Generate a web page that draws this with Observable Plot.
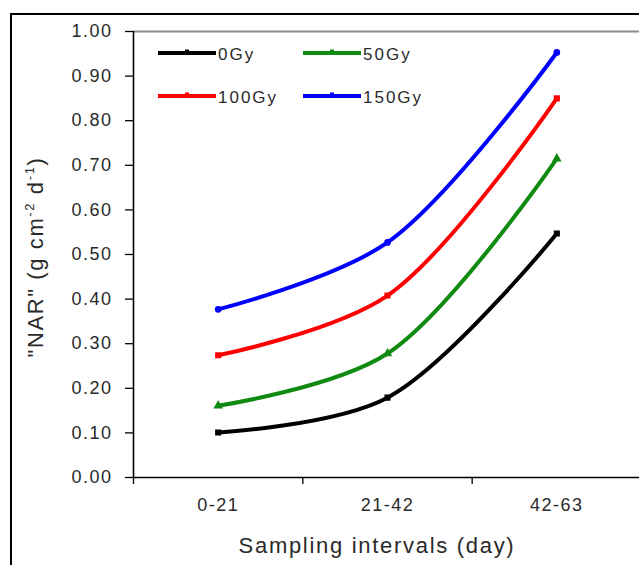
<!DOCTYPE html>
<html><head><meta charset="utf-8">
<script src="https://cdn.jsdelivr.net/npm/d3@7"></script>
<script src="https://cdn.jsdelivr.net/npm/@observablehq/plot@0.6"></script>
<style>
html,body{margin:0;padding:0;background:#fff;overflow:hidden;width:639px;height:565px}
#frame{position:absolute;left:10px;top:13px;width:700px;height:700px;border-left:2.5px solid #000;border-top:2.5px solid #000;box-sizing:border-box}
#chart{position:absolute;left:0;top:0}
</style></head><body><div id="frame"></div><div id="chart"></div>
<script>
const categories = ["0-21", "21-42", "42-63"];
const series = ["0Gy", "50Gy", "100Gy", "150Gy"];
const nar0 = [0.101, 0.179, 0.547];
const nar50 = [0.161, 0.278, 0.715];
const nar100 = [0.274, 0.408, 0.850];
const nar150 = [0.377, 0.527, 0.953];
const yTicks = [0, 0.1, 0.2, 0.3, 0.4, 0.5, 0.6, 0.7, 0.8, 0.9, 1.0];
const colors = ["#000000", "#108a10", "#ff0000", "#0000ff"];
const symbols = ["square", "triangle", "square", "circle"];
const yLabel = ["\"NAR\" (g cm", "-2", " d", "-1", ")"];
const xLabel = "Sampling intervals (day)";

const allValues = [nar0, nar50, nar100, nar150];
const data = [];
series.forEach((s, si) => categories.forEach((c, ci) => data.push({series: s, cat: c, pos: ci + 0.5, value: allValues[si][ci]})));

const W = 639, H = 565;
const pLeft = 133, pTop = 31, pBottom = 477, pRight = 641;
const font = "'Liberation Sans', Arial, sans-serif";

const plot = Plot.plot({
  width: W, height: H,
  marginLeft: pLeft, marginTop: pTop, marginBottom: H - pBottom, marginRight: 0,
  style: {fontFamily: font, background: "transparent", overflow: "hidden"},
  x: {domain: [0, categories.length], range: [pLeft, pRight]},
  y: {domain: [0, 1], range: [pBottom, pTop]},
  color: {domain: series, range: colors},
  symbol: {domain: series, range: symbols},
  marks: [
    Plot.ruleY([1], {stroke: "#8c8c8c", strokeWidth: 2}),
    Plot.axisY({ticks: yTicks, tickFormat: d3.format(".2f"), tickSize: 8, tickPadding: 13, fontSize: 18, label: null, stroke: "#000", strokeWidth: 1.3, fill: "#2a2a2a"}),
    Plot.axisX({ticks: d3.range(categories.length), tickSize: 7, tickFormat: () => "", label: null, stroke: "#000", strokeWidth: 1.3}),
    Plot.axisX({ticks: categories.map((c, i) => i + 0.5), tickSize: 0, tickPadding: 21, tickFormat: v => categories[Math.floor(v)], fontSize: 18, label: null, fill: "#2a2a2a"}),
    Plot.ruleX([0], {stroke: "#000", strokeWidth: 1.6}),
    Plot.ruleY([0], {stroke: "#000", strokeWidth: 1.6}),
    Plot.line(data, {x: "pos", y: "value", z: "series", stroke: "series", strokeWidth: 4, curve: "catmull-rom"}),
    Plot.dot(data, {x: "pos", y: "value", symbol: "series", fill: "series", stroke: "series", r: 2.6})
  ]
});

const svg = d3.select(plot);
svg.selectAll("text").style("letter-spacing", "1.5px");

// y label
const yl = svg.append("text")
  .attr("transform", `translate(43,${(pTop + pBottom) / 2 + 3}) rotate(-90)`)
  .attr("text-anchor", "middle")
  .attr("font-size", 22).attr("fill", "#2a2a2a")
  .style("letter-spacing", "1.6px");
yLabel.forEach((t, i) => {
  const sp = yl.append("tspan").text(t);
  if (i === 1 || i === 3) sp.attr("font-size", 13).attr("dy", -9);
  if (i === 2 || i === 4) sp.attr("dy", 9);
});

// x label
svg.append("text")
  .attr("x", 377).attr("y", 553)
  .attr("text-anchor", "middle")
  .attr("font-size", 22).attr("fill", "#2a2a2a")
  .style("letter-spacing", "1.7px")
  .text(xLabel);

// legend
const lg = svg.append("g");
series.forEach((s, i) => {
  const col = i % 2, row = Math.floor(i / 2);
  const x0 = 158 + col * 145, y0 = 53 + row * 43;
  lg.append("line").attr("x1", x0).attr("x2", x0 + 58).attr("y1", y0).attr("y2", y0)
    .attr("stroke", colors[i]).attr("stroke-width", 4);
  lg.append("rect").attr("x", x0 + 27).attr("y", y0 - 3.5).attr("width", 4).attr("height", 5).attr("fill", colors[i]);
  lg.append("text").attr("x", x0 + 60).attr("y", y0 + 6.5)
    .attr("text-anchor", "start")
    .attr("font-size", 17).attr("fill", "#2a2a2a")
    .style("letter-spacing", "2px").text(s);
});

document.getElementById("chart").appendChild(plot);
</script></body></html>
